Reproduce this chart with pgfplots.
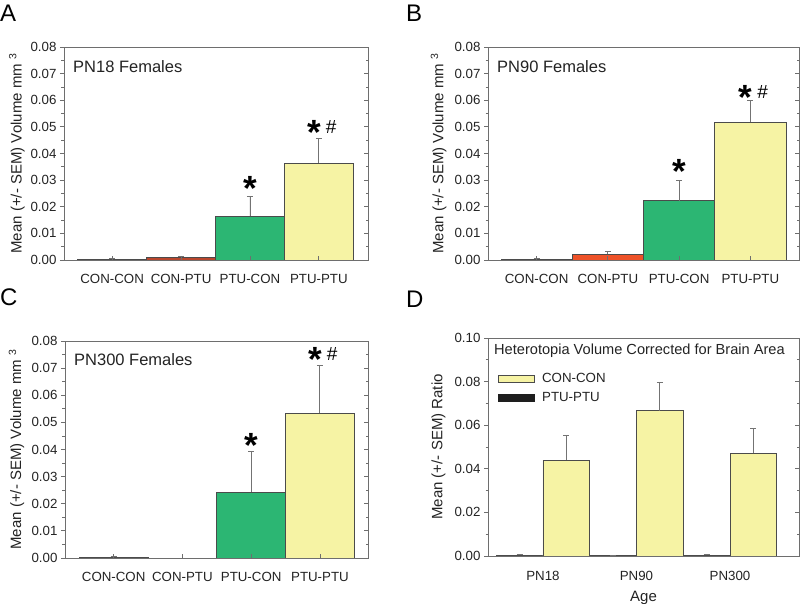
\documentclass[border=0pt]{standalone}
\usepackage{fontspec}
\setmainfont{Liberation Sans}
\usepackage{pgfplots}
\pgfplotsset{compat=1.18}
\definecolor{cgreen}{RGB}{44,182,115}
\definecolor{cyellow}{RGB}{246,243,164}
\definecolor{credA}{RGB}{185,70,45}
\definecolor{credB}{RGB}{238,82,40}
\definecolor{cblack}{RGB}{30,30,30}
\definecolor{cedge}{RGB}{75,75,75}
\definecolor{caxis}{RGB}{110,110,110}
\definecolor{ctext}{RGB}{35,35,35}
\definecolor{cerr}{RGB}{115,115,115}
\newcommand\sstar{\raisebox{-11bp}{\fontsize{35bp}{35bp}\selectfont\bfseries *}}
\newcommand\shash{{\fontsize{19bp}{19bp}\selectfont \#}}
\pgfplotsset{
 panel/.style={
  scale only axis, anchor=south west,
  axis line style={caxis, line width=0.9bp},
  tick style={caxis, line width=0.8bp},
  tick align=outside, ytick pos=left, xtick pos=bottom,
  major tick length=4bp, minor tick length=2.5bp,
  x tick style={draw=none},
  minor y tick num=1,
  ymin=0,
  tick label style={font=\fontsize{13.3bp}{15bp}\selectfont, text=ctext},
  /pgf/number format/assume math mode=true,
  scaled y ticks=false,
  yticklabel style={/pgf/number format/fixed, /pgf/number format/fixed zerofill, /pgf/number format/precision=2},
  x tick label style={anchor=base, yshift=-20bp},
  label style={font=\fontsize{15bp}{17bp}\selectfont, text=ctext},
  ylabel style={anchor=center},
  clip=false,
 },
 over/.style={
  scale only axis, anchor=south west,
  axis line style={caxis, line width=0.9bp},
  tick style={caxis, line width=0.8bp},
  tick align=inside, ytick pos=right, xtick pos=bottom,
  major tick length=4bp, minor tick length=2.5bp,
  minor y tick num=1, ymin=0, scaled y ticks=false,
  yticklabels={}, xticklabels={},
 },
 mybar/.style={ybar, bar width=1, bar shift=0, draw=cedge, line width=0.8bp, fill=#1,
   error bars/y dir=plus, error bars/y explicit,
   error bars/error mark=|,
   error bars/error bar style={cerr, line width=0.9bp},
   error bars/error mark options={cerr, mark size=3bp, line width=0.9bp}},
}
\begin{document}
\begin{tikzpicture}
\useasboundingbox (0,0) rectangle (800bp,604bp);
\tikzset{letter/.style={anchor=base west, inner sep=0pt, font=\fontsize{24bp}{24bp}\selectfont}}
\node[letter] at (0bp,582bp) {A};
\node[letter] at (406bp,582bp) {B};
\node[letter] at (0bp,298bp) {C};
\node[letter] at (406bp,296bp) {D};

% ---------- A ----------
\begin{axis}[panel, at={(64bp,344bp)}, width=304bp, height=213bp,
  xmin=-0.699, xmax=3.713, ymax=0.08,
  ytick={0,0.01,0.02,0.03,0.04,0.05,0.06,0.07,0.08},
  xtick={0,1,2,3}, xticklabels={CON-CON,CON-PTU,PTU-CON,PTU-PTU},
  ylabel={Mean (+/- SEM) Volume mm \textsuperscript{3}},
  ylabel style={at={(rel axis cs:-0.155,0.5)}}]
\addplot[mybar=cblack] coordinates {(0,0.0004) +- (0,0.0003)};
\addplot[mybar=credA] coordinates {(1,0.0009) +- (0,0.0003)};
\addplot[mybar=cgreen] coordinates {(2,0.01655) +- (0,0.00725)};
\addplot[mybar=cyellow] coordinates {(3,0.03637) +- (0,0.0094)};
\node[anchor=base, inner sep=0pt, yshift=6.7bp] at (axis cs:2,0.0238) {\sstar};
\node[anchor=base, inner sep=0pt, yshift=5bp, xshift=3bp] at (axis cs:3,0.0458) {\sstar\hspace{5bp}\shash};
\node[anchor=base west, inner sep=0pt, font=\fontsize{16.5bp}{18bp}\selectfont, text=ctext] at ([xshift=9bp,yshift=-26bp]rel axis cs:0,1) {PN18 Females};
\end{axis}
\begin{axis}[over, at={(64bp,344bp)}, width=304bp, height=213bp,
  xmin=-0.699, xmax=3.713, ymax=0.08,
  ytick={0,0.01,0.02,0.03,0.04,0.05,0.06,0.07,0.08}, xtick={0,1,2,3}]
\end{axis}

% ---------- B ----------
\begin{axis}[panel, at={(488bp,344bp)}, width=311bp, height=213bp,
  xmin=-0.682, xmax=3.682, ymax=0.08,
  ytick={0,0.01,0.02,0.03,0.04,0.05,0.06,0.07,0.08},
  xtick={0,1,2,3}, xticklabels={CON-CON,CON-PTU,PTU-CON,PTU-PTU},
  ylabel={Mean (+/- SEM) Volume mm \textsuperscript{3}},
  ylabel style={at={(rel axis cs:-0.159,0.5)}}]
\addplot[mybar=cblack] coordinates {(0,0.0003) +- (0,0.0002)};
\addplot[mybar=credB] coordinates {(1,0.00214) +- (0,0.001)};
\addplot[mybar=cgreen] coordinates {(2,0.0222) +- (0,0.0075)};
\addplot[mybar=cyellow] coordinates {(3,0.05165) +- (0,0.0083)};
\node[anchor=base, inner sep=0pt, yshift=8bp] at (axis cs:2,0.0297) {\sstar};
\node[anchor=base, inner sep=0pt, yshift=2bp, xshift=3bp] at (axis cs:3,0.0599) {\sstar\hspace{5bp}\shash};
\node[anchor=base west, inner sep=0pt, font=\fontsize{16.5bp}{18bp}\selectfont, text=ctext] at ([xshift=9bp,yshift=-26bp]rel axis cs:0,1) {PN90 Females};
\end{axis}
\begin{axis}[over, at={(488bp,344bp)}, width=311bp, height=213bp,
  xmin=-0.682, xmax=3.682, ymax=0.08,
  ytick={0,0.01,0.02,0.03,0.04,0.05,0.06,0.07,0.08}, xtick={0,1,2,3}]
\end{axis}

% ---------- C ----------
\begin{axis}[panel, at={(65bp,46bp)}, width=303bp, height=217bp,
  xmin=-0.708, xmax=3.699, ymax=0.08,
  ytick={0,0.01,0.02,0.03,0.04,0.05,0.06,0.07,0.08},
  xtick={0,1,2,3}, xticklabels={CON-CON,CON-PTU,PTU-CON,PTU-PTU},
  ylabel={Mean (+/- SEM) Volume mm \textsuperscript{3}},
  ylabel style={at={(rel axis cs:-0.16,0.5)}}]
\addplot[mybar=cblack] coordinates {(0,0.0003) +- (0,0.0003)};
\addplot[mybar=cgreen] coordinates {(2,0.02433) +- (0,0.01512)};
\addplot[mybar=cyellow] coordinates {(3,0.05346) +- (0,0.01758)};
\node[anchor=base, inner sep=0pt, yshift=4bp] at (axis cs:2,0.03945) {\sstar};
\node[anchor=base, inner sep=0pt, yshift=5bp, xshift=3bp] at (axis cs:3,0.07104) {\sstar\hspace{5bp}\shash};
\node[anchor=base west, inner sep=0pt, font=\fontsize{16.5bp}{18bp}\selectfont, text=ctext] at ([xshift=9bp,yshift=-24bp]rel axis cs:0,1) {PN300 Females};
\end{axis}
\begin{axis}[over, at={(65bp,46bp)}, width=303bp, height=217bp,
  xmin=-0.708, xmax=3.699, ymax=0.08,
  ytick={0,0.01,0.02,0.03,0.04,0.05,0.06,0.07,0.08}, xtick={0,1,2,3}]
\end{axis}

% ---------- D ----------
\begin{axis}[panel, at={(488bp,48bp)}, width=311bp, height=218bp,
  xmin=-0.588, xmax=2.738, ymax=0.10,
  ytick={0,0.02,0.04,0.06,0.08,0.10},
  xtick={0,1,2}, xticklabels={PN18,PN90,PN300},
  xlabel={Age},
  xlabel style={at={(rel axis cs:0.5,0)}, anchor=base, yshift=-45bp},
  ylabel={Mean (+/- SEM) Ratio},
  ylabel style={at={(rel axis cs:-0.159,0.5)}},
  legend style={at={(rel axis cs:0.03,0.847)}, anchor=north west, draw=none, fill=none,
    font=\fontsize{13.3bp}{15bp}\selectfont, text=ctext, row sep=4.5bp, inner sep=0pt,
    nodes={inner sep=2bp}},
  legend cell align=left]
\addlegendimage{legend image code/.code={\draw[fill=cyellow,draw=cedge,line width=0.8bp] (0bp,-3.5bp) rectangle (36bp,3.5bp); \path (40bp,0bp);}}
\addlegendentry{CON-CON}
\addlegendimage{legend image code/.code={\draw[fill=cblack,draw=cblack,line width=0.8bp] (0bp,-3.5bp) rectangle (36bp,3.5bp); \path (42bp,0bp);}}
\addlegendentry{PTU-PTU}
\addplot[mybar=cblack, bar width=0.5, forget plot] coordinates {(-0.25,0.0004) +- (0,0.0004) (0.75,0.0002) +- (0,0.0001) (1.75,0.0004) +- (0,0.0004)};
\addplot[mybar=cyellow, bar width=0.5, forget plot] coordinates {(0.25,0.04398) +- (0,0.01145) (1.25,0.06657) +- (0,0.01283) (2.25,0.04703) +- (0,0.01147)};
\node[anchor=base west, inner sep=0pt, font=\fontsize{14.6bp}{16bp}\selectfont, text=ctext] at ([xshift=6bp,yshift=-17bp]rel axis cs:0,1) {Heterotopia Volume Corrected for Brain Area};
\end{axis}
\begin{axis}[over, at={(488bp,48bp)}, width=311bp, height=218bp,
  xmin=-0.588, xmax=2.738, ymax=0.10,
  ytick={0,0.02,0.04,0.06,0.08,0.10}, xtick=\empty]
\end{axis}
\end{tikzpicture}
\end{document}
